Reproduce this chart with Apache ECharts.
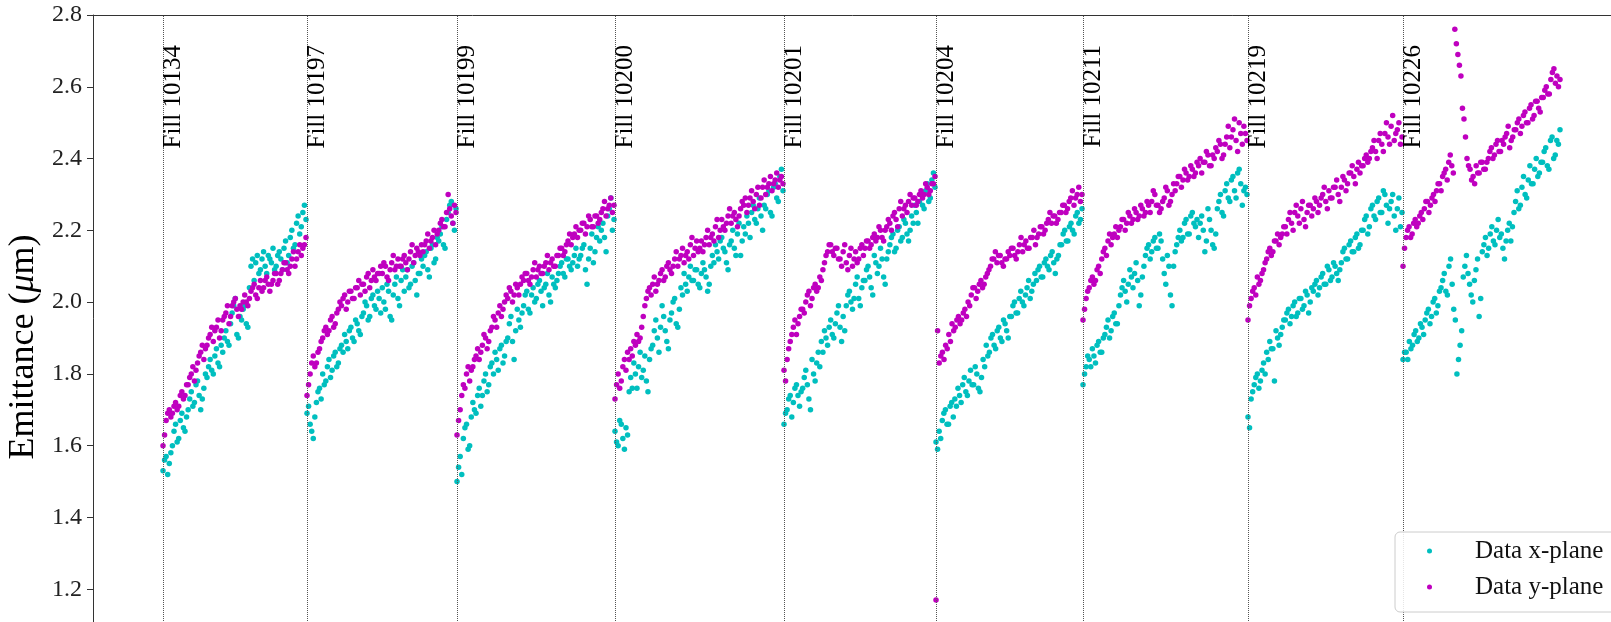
<!DOCTYPE html>
<html>
<head>
<meta charset="utf-8">
<title>Emittance per fill</title>
<script src="https://cdn.jsdelivr.net/npm/echarts@6.0.0/dist/echarts.min.js"></script>
<style>
html, body { margin: 0; padding: 0; background: #fff; }
#chart { width: 1611px; height: 622px; }
</style>
</head>
<body>
<div id="chart"></div>
<script>
// fills and their time span (cumulative hours)
var fillNames = ['Fill 10134', 'Fill 10197', 'Fill 10199', 'Fill 10200', 'Fill 10201', 'Fill 10204', 'Fill 10211', 'Fill 10219', 'Fill 10226'];
var fillStart = [7.0, 21.4, 36.4, 52.2, 69.1, 84.3, 99.0, 115.5, 131.0];
var fillEnd   = [21.3, 36.3, 52.1, 69.0, 84.2, 98.9, 115.4, 130.9, 146.7];

var yTicks = [1.0, 2.8, 0.2]; // min, max, step

// emittance samples (um), evenly spaced in time within each fill
var x10134 = [1.53,1.56,1.57,1.52,1.55,1.58, 1.60,1.64,1.66,1.61,1.62,1.67,1.69,1.65,1.64,1.68,1.70,1.73,
              1.75,1.71,1.72,1.77,1.78,1.74,1.70,1.73,1.76,1.80,1.79,1.82, 1.84,1.81,1.80,1.85,1.87,1.83,1.82,1.88,1.86,1.90,
              1.92,1.89,1.88,1.94,1.97,1.99,2.01,1.91,1.90,1.96,1.95,1.98,1.99,1.94,1.93,2.04,
              2.10,2.12,2.06,2.11,2.13,2.08,2.09,2.12,2.14,2.10,2.08,2.13,2.12,2.11,2.15,2.09,2.10,2.13,
              2.14,2.12,2.09,2.15,2.17,2.11,2.13,2.18,2.20,2.15,2.16,2.22,2.24,2.19,2.21,2.25,2.27,2.23];
var y10134 = [1.60,1.63,1.67,1.69,1.70,1.68, 1.69,1.71,1.72,1.70,1.71,1.74,1.75,1.73,1.74,1.77,1.77,1.79,
              1.80,1.82,1.78,1.81,1.83,1.85,1.86,1.88,1.84,1.87,1.88,1.90, 1.91,1.93,1.89,1.92,1.93,1.95,1.90,1.92,1.95,1.96,
              1.97,1.99,1.94,1.96,1.99,2.00,2.01,1.98,1.96,1.99,1.98,2.00,2.02,2.00,1.99,2.01,
              2.03,2.04,2.05,2.02,2.01,2.04,2.06,2.03,2.04,2.06,2.07,2.05,2.03,2.05,2.06,2.08,2.08,2.05,
              2.06,2.08,2.09,2.11,2.11,2.09,2.08,2.10,2.12,2.14,2.10,2.12,2.14,2.16,2.13,2.15,2.16,2.18];

var x10197 = [1.69,1.71,1.66,1.64,1.62,1.68,1.72,1.75,1.76,1.73, 1.80,1.77,1.78,1.82,1.84,1.79,1.81,1.85,1.86,1.82,1.83,1.87,
              1.88,1.86,1.91,1.89,1.87,1.92,1.93,1.90,1.89,1.95,1.94,1.92,1.91,1.96, 1.97,2.00,1.99,1.95,1.96,2.01,2.02,1.99,1.98,2.03,2.01,1.97,
              2.04,2.00,1.98,2.05,2.03,1.96,1.95,2.02,2.05,2.07,2.01,1.99, 2.06,2.09,2.03,2.07,2.09,2.04,2.05,2.10,2.11,2.06,2.02,2.08,2.08,2.12,
              2.10,2.13,2.14,2.09,2.07,2.15,2.16,2.11,2.12,2.18, 2.17,2.19,2.21,2.16,2.15,2.23,2.25,2.27,2.28,2.22,2.20,2.26];
var y10197 = [1.74,1.77,1.80,1.83,1.85,1.82,1.83,1.86,1.87,1.89, 1.90,1.92,1.93,1.91,1.92,1.95,1.96,1.93,1.94,1.97,1.98,2.00,
              1.99,2.01,2.02,1.98,2.00,2.03,2.03,2.01,2.01,2.04,2.04,2.06,2.02,2.05, 2.05,2.03,2.07,2.08,2.04,2.06,2.09,2.07,2.06,2.08,2.08,2.10,
              2.08,2.11,2.10,2.07,2.06,2.09,2.11,2.13,2.09,2.10,2.12,2.10, 2.10,2.12,2.13,2.11,2.09,2.12,2.14,2.16,2.11,2.13,2.15,2.14,2.13,2.16,
              2.14,2.16,2.17,2.19,2.15,2.17,2.18,2.20,2.16,2.19, 2.20,2.22,2.23,2.21,2.21,2.25,2.30,2.26,2.24,2.22,2.27,2.25];

var x10199 = [1.50,1.54, 1.57,1.52,1.62,1.65,1.66,1.59,1.60,1.68, 1.72,1.70,1.69,1.74,1.76,1.71,1.74,1.78,1.80,1.75,1.77,1.82,
              1.83,1.80,1.86,1.84,1.81,1.87,1.88,1.83,1.85,1.89, 1.90,1.94,1.96,1.89,1.84,1.92,1.98,1.95,1.93,1.97,
              1.99,2.02,2.03,1.98,1.97,2.02,2.04,2.00,2.01,2.05,2.06,2.03,1.99,2.04,2.05,2.08,2.02,2.00,2.07,2.05,2.04,2.06,
              2.08,2.10,2.11,2.08,2.07,2.12,2.12,2.10,2.09,2.11,2.13,2.15,2.10,2.12, 2.13,2.15,2.16,2.09,2.05,2.12,2.15,2.19,2.11,2.14,2.18,2.21,
              2.17,2.20,2.22,2.18,2.14,2.24,2.26,2.29,2.20,2.23];
var y10199 = [1.63,1.67, 1.70,1.74,1.77,1.76,1.80,1.82,1.78,1.81, 1.82,1.84,1.85,1.87,1.84,1.86,1.88,1.91,1.90,1.87,1.89,1.92,
              1.93,1.96,1.95,1.93,1.97,1.99,1.96,1.98,2.00,2.02, 2.01,2.04,2.03,2.00,2.02,2.05,2.04,2.02,2.05,2.07,
              2.06,2.08,2.08,2.06,2.05,2.07,2.09,2.11,2.07,2.09,2.10,2.08,2.08,2.10,2.11,2.13,2.09,2.11,2.12,2.10,2.10,2.13,
              2.13,2.15,2.15,2.13,2.14,2.16,2.17,2.19,2.16,2.18,2.19,2.21,2.18,2.20, 2.20,2.22,2.22,2.19,2.21,2.24,2.23,2.21,2.21,2.24,2.24,2.22,
              2.23,2.25,2.26,2.28,2.24,2.26,2.27,2.29,2.25,2.27];

var x10200 = [1.64,1.61,1.60,1.67,1.66,1.62,1.59,1.65,1.63,1.75, 1.79,1.76,1.83,1.80,1.76,1.82,1.86,1.79,1.81,1.85,1.78,1.75,1.84,1.87,
              1.88,1.92,1.95,1.90,1.86,1.93,1.99,1.96,1.92,1.89,1.87,1.95,1.97,2.00,2.01,1.94,1.93,1.98,
              2.04,2.02,2.08,2.05,2.03,2.07,2.10,2.06,2.06,2.09,2.09,2.05,2.04,2.08,2.11,2.09,2.07,2.03,2.05,2.10,
              2.13,2.11,2.16,2.14,2.12,2.17,2.18,2.15,2.14,2.11,2.09,2.16,2.17,2.20,2.15,2.13,2.19,2.22,2.13,2.17,
              2.21,2.19,2.24,2.22,2.18,2.25,2.27,2.23,2.22,2.26,2.29,2.24,2.20,2.27,2.26,2.30,2.31,2.25,2.24,2.32,2.33,2.29,2.28,2.35,2.37,2.31];
var y10200 = [1.73,1.77,1.80,1.76,1.78,1.82,1.84,1.81,1.86,1.84, 1.87,1.85,1.89,1.88,1.91,1.89,1.90,1.93,1.96,1.99,2.01,2.03,2.04,2.02,
              2.05,2.07,2.03,2.05,2.06,2.08,2.09,2.06,2.07,2.10,2.11,2.09,2.08,2.10,2.12,2.14,2.10,2.12,
              2.13,2.15,2.11,2.13,2.14,2.12,2.16,2.18,2.13,2.15,2.17,2.14,2.15,2.17,2.14,2.16,2.18,2.20,2.16,2.18,
              2.19,2.17,2.21,2.23,2.18,2.20,2.23,2.21,2.20,2.22,2.24,2.26,2.22,2.24,2.25,2.23,2.21,2.24,2.26,2.28,
              2.27,2.29,2.25,2.27,2.29,2.31,2.28,2.26,2.30,2.32,2.27,2.29,2.32,2.34,2.30,2.32,2.33,2.35,2.31,2.33,2.34,2.36,2.32,2.34,2.35,2.33];

var x10201 = [1.66,1.69, 1.70,1.73,1.74,1.68,1.72,1.76,1.77,1.74,1.71,1.75, 1.76,1.79,1.81,1.77,1.73,1.70,1.84,1.80,1.78,1.83,1.86,1.82,
              1.89,1.86,1.92,1.90,1.88,1.93,1.95,1.91,1.90,1.94,1.97,1.99,1.93,1.89,1.96,1.92, 1.99,2.02,2.03,2.00,1.98,2.01,2.05,2.07,2.01,1.99,2.04,2.06,
              2.06,2.09,2.10,2.07,2.04,2.02,2.13,2.11,2.08,2.10,2.15,2.12,2.07,2.05,2.12,2.14, 2.16,2.18,2.19,2.14,2.15,2.20,2.21,2.17,2.18,2.23,2.22,2.19,2.17,2.20,
              2.24,2.22,2.27,2.25,2.22,2.28,2.30,2.27,2.26,2.31,2.33,2.28,2.29,2.34,2.36,2.32];
var y10201 = [1.81,1.78, 1.84,1.87,1.89,1.91,1.93,1.95,1.91,1.94,1.96,1.98, 1.98,1.97,2.00,2.02,2.03,1.99,2.01,2.04,2.05,2.03,2.04,2.07,
              2.06,2.09,2.11,2.13,2.14,2.16,2.16,2.14,2.13,2.15,2.15,2.12,2.12,2.10,2.14,2.16, 2.11,2.09,2.13,2.15,2.10,2.12,2.14,2.11,2.12,2.15,2.16,2.13,
              2.15,2.17,2.17,2.15,2.16,2.18,2.19,2.17,2.18,2.21,2.20,2.18,2.17,2.20,2.21,2.23, 2.22,2.20,2.24,2.25,2.23,2.21,2.26,2.28,2.24,2.26,2.27,2.25,2.28,2.30,
              2.27,2.29,2.29,2.27,2.28,2.30,2.31,2.29,2.30,2.33,2.32,2.30,2.31,2.33,2.33,2.35];

var x10204 = [1.61,1.59, 1.64,1.62,1.67,1.69,1.70,1.66,1.66,1.71,1.72,1.68,
              1.73,1.71,1.76,1.74,1.72,1.77,1.79,1.75,1.74,1.78,1.81,1.77,1.77,1.82,1.80,1.76,1.75,1.79,
              1.84,1.82,1.88,1.85,1.86,1.90,1.91,1.88,1.87,1.92,1.93,1.90,1.89,1.95,1.94,1.92,1.90,1.96,
              1.96,1.99,2.00,1.97,1.97,2.01,2.03,2.00,1.99,2.02,2.04,2.06,2.01,2.03,2.05,2.08,
              2.06,2.09,2.10,2.07,2.07,2.11,2.12,2.10,2.09,2.13,2.14,2.11,2.08,2.12,2.13,2.16,
              2.16,2.19,2.20,2.17,2.17,2.21,2.22,2.20,2.19,2.24,2.25,2.22,2.23,2.26];
var y10204 = [1.17,1.92, 1.83,1.85,1.86,1.84,1.88,1.87, 1.91,1.89,1.94,1.92,1.93,1.95,1.96,1.94,1.95,1.97,1.98,1.96,
              2.00,1.99,2.02,2.04,2.04,2.01,2.03,2.05,2.06,2.04,2.05,2.07,2.08,2.09, 2.10,2.12,2.12,2.14,2.11,2.13,2.13,2.11,2.10,2.12,2.12,2.14,
              2.13,2.15,2.15,2.13,2.12,2.14,2.16,2.18,2.14,2.16,2.17,2.15,2.15,2.18,2.18,2.20,2.16,2.18,
              2.19,2.21,2.21,2.19,2.20,2.22,2.23,2.25,2.22,2.24,2.24,2.22,2.23,2.25,
              2.25,2.27,2.27,2.25,2.26,2.28,2.29,2.31,2.27,2.29,2.30,2.32,2.28,2.30];

var x10211 = [1.77,1.80,1.82,1.85, 1.84,1.82,1.87,1.85,1.83,1.88,1.89,1.86,1.86,1.90, 1.91,1.93,1.95,1.90,1.92,1.96,1.97,1.94,1.94,1.99,
              2.02,2.04,2.06,2.03,2.00,2.05,2.09,2.07,2.04,2.08,2.11,2.06,1.99,2.02,2.07,2.10, 2.13,2.15,2.16,2.12,2.14,2.17,2.18,2.15,2.15,2.19,
              2.17,2.12,2.08,2.05,2.13,2.10,2.02,1.99,2.10,2.14, 2.16,2.18,2.20,2.17,2.18,2.22,2.23,2.19,2.19,2.24,2.25,2.22,2.21,2.23,
              2.18,2.22,2.24,2.20,2.14,2.17,2.26,2.23,2.20,2.16,2.15,2.19,
              2.26,2.28,2.30,2.25,2.24,2.31,2.33,2.29,2.28,2.34,2.35,2.31,2.29,2.36,2.37,2.33,2.27,2.31,2.32,2.30];
var y10211 = [1.95,1.98,2.01,2.03, 2.04,2.06,2.07,2.05,2.06,2.09,2.10,2.08,2.12,2.14, 2.15,2.13,2.17,2.19,2.16,2.18,2.19,2.21,2.18,2.20,
              2.21,2.23,2.23,2.20,2.22,2.25,2.24,2.22,2.23,2.26,2.25,2.23,2.24,2.27,2.26,2.24, 2.25,2.28,2.27,2.25,2.28,2.31,2.30,2.27,2.27,2.25,
              2.26,2.28,2.29,2.32,2.31,2.27,2.28,2.30,2.33,2.31, 2.33,2.35,2.35,2.32,2.34,2.37,2.36,2.34,2.35,2.38,2.37,2.35,2.36,2.39,
              2.38,2.40,2.36,2.39,2.39,2.42,2.41,2.38,2.38,2.41,2.40,2.43,
              2.42,2.45,2.44,2.40,2.41,2.44,2.46,2.49,2.43,2.46,2.48,2.51,2.45,2.42,2.50,2.47,2.44,2.49,2.47,2.45];

var x10219 = [1.68,1.65,1.73,1.75, 1.77,1.79,1.80,1.76,1.78,1.81,1.83,1.80, 1.86,1.84,1.89,1.87,1.87,1.78,1.92,1.90,1.88,1.91,1.93,1.95,
              1.95,1.97,1.98,1.94,1.96,1.99,2.00,1.96,1.97,2.01,2.01,1.98,1.99,2.03,2.02,1.97,2.00,2.04,
              2.03,2.05,2.06,2.02,2.04,2.07,2.08,2.05,2.05,2.10,2.09,2.06,2.07,2.11,2.10,2.08,2.06,2.09,
              2.11,2.14,2.15,2.12,2.12,2.16,2.17,2.14,2.14,2.18,2.19,2.15,2.16,2.20,
              2.20,2.23,2.24,2.19,2.21,2.26,2.27,2.24,2.23,2.28,2.29,2.25,2.25,2.31,2.30,2.27,2.22,2.26,2.28,2.30,2.24,2.20,2.26,2.29,2.21,2.25];
var y10219 = [1.95,1.99,2.01,2.03, 2.04,2.02,2.07,2.05,2.06,2.08,2.09,2.11, 2.12,2.14,2.15,2.13,2.14,2.17,2.17,2.19,2.16,2.18,2.19,2.21,
              2.21,2.19,2.23,2.25,2.22,2.20,2.25,2.27,2.24,2.22,2.26,2.28,2.23,2.21,2.25,2.27,2.27,2.24,
              2.26,2.29,2.28,2.25,2.27,2.29,2.30,2.32,2.28,2.26,2.31,2.29,2.29,2.32,2.32,2.34,2.30,2.28,
              2.32,2.35,2.34,2.31,2.33,2.36,2.36,2.38,2.35,2.33,2.37,2.39,2.36,2.38,
              2.38,2.40,2.41,2.39,2.40,2.42,2.43,2.45,2.42,2.40,2.45,2.47,2.44,2.42,2.47,2.50,2.46,2.44,2.49,2.52,2.45,2.47,2.48,2.50,2.44,2.46];

var x10226 = [1.84,1.86, 1.86,1.84,1.89,1.87,1.88,1.91,1.92,1.89,1.90,1.94,1.93,1.91, 1.95,1.97,1.98,1.94,1.96,2.00,2.01,1.97,1.99,2.03,
              2.04,2.06,2.08,2.03,2.02,2.10,2.12,2.05,1.98,1.95, 1.80,1.84,1.88,1.92,
              2.07,2.10,2.13,2.08,2.05,2.02,2.00,2.06,2.09,2.12,1.96,2.01,
              2.14,2.16,2.18,2.13,2.15,2.19,2.21,2.17,2.16,2.20,2.23,2.18,2.19,2.15,2.12,2.17,2.20,2.22,2.17,2.21,
              2.25,2.28,2.31,2.26,2.27,2.32,2.35,2.30,2.29,2.34,2.38,2.33,2.33,2.37,2.40,2.35,2.36,2.39,
              2.39,2.42,2.43,2.38,2.37,2.45,2.46,2.40,2.41,2.45,2.44,2.48];
var y10226 = [2.10,2.15, 2.18,2.20,2.21,2.18,2.19,2.22,2.23,2.21,2.22,2.24,2.25,2.23, 2.26,2.28,2.28,2.25,2.27,2.29,2.30,2.28,2.31,2.33,
              2.33,2.31,2.35,2.36,2.37,2.34,2.39,2.41,2.38,2.36, 2.76,2.72,2.69,2.66,2.63,2.54,2.51,2.46,
              2.40,2.38,2.37,2.34,2.35,2.33,2.38,2.36,2.36,2.39,2.39,2.37,
              2.37,2.39,2.40,2.42,2.43,2.40,2.41,2.44,2.45,2.42,2.42,2.45,2.44,2.46,2.47,2.49,2.43,2.45,2.46,2.48,
              2.48,2.50,2.51,2.47,2.49,2.52,2.53,2.50,2.50,2.54,2.55,2.51,2.52,2.56,2.56,2.54,2.53,2.57,
              2.57,2.59,2.60,2.58,2.58,2.62,2.64,2.65,2.61,2.63,2.60,2.62];

var xPlaneFills = [x10134, x10197, x10199, x10200, x10201, x10204, x10211, x10219, x10226];
var yPlaneFills = [y10134, y10197, y10199, y10200, y10201, y10204, y10211, y10219, y10226];

(function(){
    var myChart = echarts.init(document.getElementById('chart'));
    var serif = '"Liberation Serif", "DejaVu Serif", serif';

    // spread each fill's samples over its time span
    function toPoints(fills) {
        var pts = [];
        for (var k = 0; k < fills.length; k++) {
            var v = fills[k];
            var step = (fillEnd[k] - fillStart[k]) / (v.length - 1);
            for (var i = 0; i < v.length; i++) {
                pts.push([fillStart[k] + i * step, v[i]]);
            }
        }
        return pts;
    }

    var fillLines = fillStart.map(function(t, i){
        return { name: fillNames[i], xAxis: t };
    });

    var option = {
        animation: false,
        backgroundColor: '#fff',
        grid: {
            left: 93,
            top: 15,
            right: -5,
            bottom: -39,
            outerBoundsMode: 'none',
            containLabel: false
        },
        legend: {
            data: ['Data x-plane', 'Data y-plane'],
            orient: 'vertical',
            left: 1427,
            top: 536,
            padding: 0,
            itemWidth: 5,
            itemHeight: 5,
            itemGap: 6,
            icon: 'circle',
            z: 100,
            formatter: function(name){ return '{g|}{t|' + name + '}'; },
            textStyle: {
                fontFamily: serif, fontSize: 25, color: '#111', lineHeight: 30,
                rich: {
                    g: { width: 38 },
                    t: { fontFamily: serif, fontSize: 25, color: '#111', lineHeight: 30 }
                }
            }
        },
        graphic: [{
            type: 'rect',
            z: 50,
            shape: { x: 1395, y: 532, width: 240, height: 80, r: 5 },
            style: { fill: 'rgba(255,255,255,0.85)', stroke: '#cccccc', lineWidth: 1 }
        }],
        xAxis: [
            {
                type: 'value',
                min: 0,
                max: 152.3,
                axisLine: { show: false },
                axisTick: { show: false },
                axisLabel: { show: false },
                splitLine: { show: false }
            },
            // top spine
            {
                type: 'value',
                position: 'top',
                min: 0,
                max: 152.3,
                axisLine: { show: true, lineStyle: { color: '#333', width: 1 } },
                axisTick: { show: false },
                axisLabel: { show: false },
                splitLine: { show: false }
            }
        ],
        yAxis: {
            type: 'value',
            min: yTicks[0],
            max: yTicks[1],
            interval: yTicks[2],
            name: '{n|Emittance (}{m|μ}{n|m)}',
            nameLocation: 'middle',
            nameRotate: 90,
            nameGap: 50,
            nameTextStyle: {
                color: '#000',
                padding: [0, 18, 0, 0],
                rich: {
                    n: { fontFamily: serif, fontSize: 36, color: '#000' },
                    m: { fontFamily: serif, fontSize: 36, fontStyle: 'italic', color: '#000' }
                }
            },
            axisLine: { show: true, lineStyle: { color: '#333', width: 1 } },
            axisTick: { show: true, inside: false, length: 6, lineStyle: { color: '#333' } },
            axisLabel: {
                margin: 11,
                fontFamily: serif,
                fontSize: 24,
                color: '#222',
                formatter: function(v){ return v.toFixed(1); }
            },
            splitLine: { show: false }
        },
        series: [
            {
                name: 'Data x-plane',
                type: 'scatter',
                symbolSize: 5.5,
                itemStyle: { color: '#00bfbf', opacity: 1 },
                data: toPoints(xPlaneFills),
                markLine: {
                    silent: true,
                    symbol: ['none', 'none'],
                    lineStyle: { type: 'dotted', color: '#555', width: 1 },
                    label: {
                        show: true,
                        position: 'insideEndBottom',
                        distance: [30, -2],
                        formatter: '{b}',
                        fontFamily: serif,
                        fontSize: 25,
                        color: '#000'
                    },
                    data: fillLines
                }
            },
            {
                name: 'Data y-plane',
                type: 'scatter',
                symbolSize: 5.5,
                itemStyle: { color: '#bf00bf', opacity: 1 },
                data: toPoints(yPlaneFills)
            }
        ]
    };
    myChart.setOption(option);
})();
</script>
</body>
</html>
